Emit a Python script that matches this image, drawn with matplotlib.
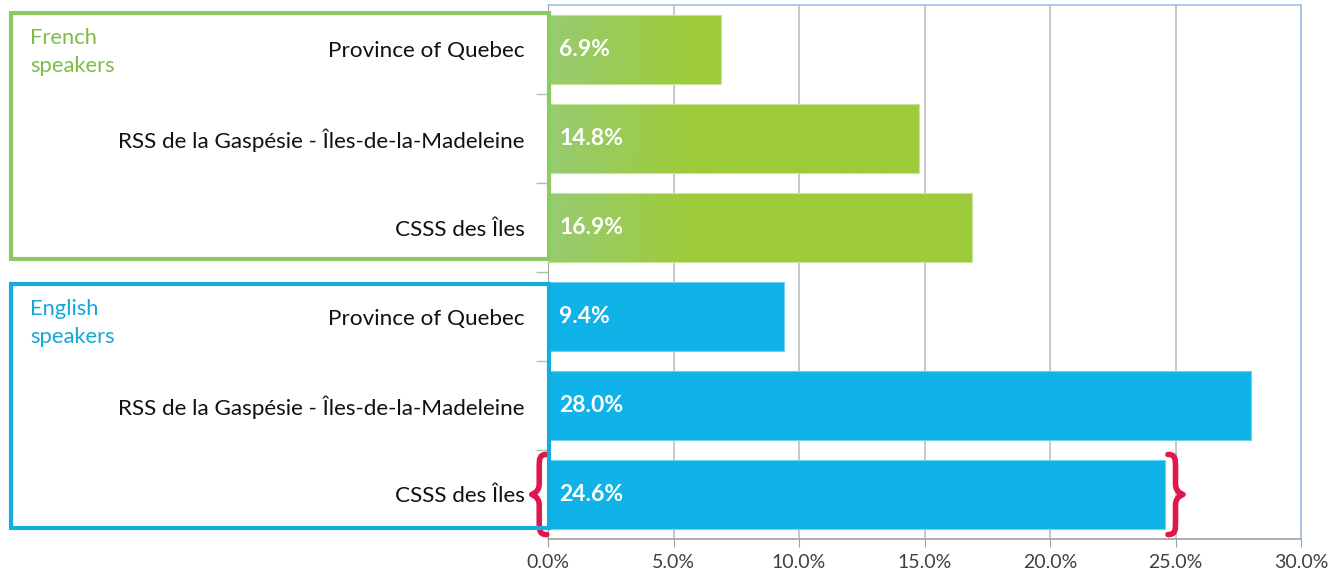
import numpy as np
import matplotlib
matplotlib.use("Agg")
import matplotlib.pyplot as plt
from matplotlib.patches import Rectangle, PathPatch
from matplotlib.path import Path
import matplotlib.transforms as mtransforms
from matplotlib.colors import to_rgb

plt.rcParams['font.family'] = ['Lato', 'DejaVu Sans']

# ---- data ----
categories = ["Province of Quebec", "RSS de la Gaspésie - Îles-de-la-Madeleine", "CSSS des Îles",
              "Province of Quebec", "RSS de la Gaspésie - Îles-de-la-Madeleine", "CSSS des Îles"]
groups = ["French speakers", "English speakers"]
french_values = [6.9, 14.8, 16.9]
english_values = [9.4, 28.0, 24.6]
x_ticks = [0, 5, 10, 15, 20, 25, 30]
x_tick_labels = ["0.0%", "5.0%", "10.0%", "15.0%", "20.0%", "25.0%", "30.0%"]

W, H = 1341, 577
fig = plt.figure(figsize=(W / 100, H / 100), dpi=100)
ax = fig.add_axes([548 / W, 1 - 539 / H, (1301 - 548) / W, (539 - 5) / H])

green_l = np.array(to_rgb("#97cb72"))
green_r = np.array(to_rgb("#9ecb3a"))
blue = "#0fb3e7"
bar_h = 0.78

ax.set_xlim(0, 30)
ax.set_ylim(5.5, -0.5)

# green bars with gradient
grad_end = 5.5
xs = np.linspace(0, 30, 600)
t = np.clip(xs / grad_end, 0, 1)[None, :, None]
img = green_l[None, None, :] * (1 - t) + green_r[None, None, :] * t
for i, v in enumerate(french_values):
    bars = ax.barh(i, v, height=bar_h, color="none", edgecolor="#c8e49a", linewidth=0.8, zorder=3)
    im = ax.imshow(img, extent=[0, 30, 5.5, -0.5], aspect="auto", zorder=2, interpolation="bilinear")
    im.set_clip_path(bars.patches[0])
    ax.text(0.45, i, f"{v:.1f}%", color="white", fontsize=16.5, fontweight="bold",
            va="center", ha="left", zorder=5)

for j, v in enumerate(english_values):
    i = j + 3
    ax.barh(i, v, height=bar_h, color=blue, edgecolor="#6fd0f0", linewidth=0.8, zorder=3)
    ax.text(0.45, i, f"{v:.1f}%", color="white", fontsize=16.5, fontweight="bold",
            va="center", ha="left", zorder=5)

ax.set_xlim(0, 30)
ax.set_ylim(5.5, -0.5)

# grid & axes
ax.set_xticks(x_ticks)
ax.set_xticklabels(x_tick_labels, fontsize=14, color="#404040")
ax.xaxis.grid(True, color="#bdbdbd", linewidth=1.2, zorder=0)
ax.set_axisbelow(True)
ax.tick_params(axis="x", length=6, color="#a0a0a0", pad=5)
ax.set_yticks(range(len(categories)))
ax.set_yticklabels(categories, fontsize=16.2, color="#111111")
ax.tick_params(axis="y", length=0, pad=17)
ax.set_yticks(np.arange(0.5, 5.5, 1.0), minor=True)
ax.tick_params(axis="y", which="minor", length=9, color="#a8c8a0", width=1)

for s in ["top", "right"]:
    ax.spines[s].set_color("#9dc3e6")
    ax.spines[s].set_linewidth(1.2)
ax.spines["left"].set_color("#a0a0a0")
ax.spines["bottom"].set_color("#a0a0a0")
ax.spines["bottom"].set_linewidth(1.2)

# group boxes (x in figure fraction, y in data)
trans = mtransforms.blended_transform_factory(fig.transFigure, ax.transData)
box_specs = [(-0.41, 2.35, "#8ccb63", "#7dbd45", groups[0]),
             (2.63, 5.38, "#14ade0", "#13a7da", groups[1])]
for y0, y1, ec, tc, label in box_specs:
    r = Rectangle((11 / W, y0), (549 - 11) / W, y1 - y0, transform=trans, fill=False,
                  edgecolor=ec, linewidth=3, clip_on=False, zorder=6)
    fig.add_artist(r)
    fig.text(30 / W, y0 + 0.17, label.replace(" ", "\n"), transform=trans, color=tc,
             fontsize=15.8, va="top", ha="left", linespacing=1.5)


def brace(ax, x, yc, half, width, direction, color="#e0174a"):
    # direction: -1 tip points left, +1 tip points right
    d = direction * width
    w2 = d / 2
    verts = [
        (x, yc - half),
        (x + w2, yc - half), (x + w2, yc - half + 0.05), (x + w2, yc - half + 0.15),
        (x + w2, yc - 0.12),
        (x + w2, yc - 0.02), (x + d, yc), (x + d, yc),
        (x + d, yc), (x + w2, yc + 0.02), (x + w2, yc + 0.12),
        (x + w2, yc + half - 0.15),
        (x + w2, yc + half - 0.05), (x + w2, yc + half), (x, yc + half),
    ]
    codes = [Path.MOVETO,
             Path.CURVE4, Path.CURVE4, Path.CURVE4,
             Path.LINETO,
             Path.CURVE4, Path.CURVE4, Path.CURVE4,
             Path.CURVE4, Path.CURVE4, Path.CURVE4,
             Path.LINETO,
             Path.CURVE4, Path.CURVE4, Path.CURVE4]
    p = PathPatch(Path(verts, codes), fill=False, edgecolor=color, linewidth=4,
                  clip_on=False, zorder=7, capstyle="round", joinstyle="round")
    ax.add_patch(p)


# highlight the CSSS des Îles English bar
hl_index = 5
hl_value = english_values[2]
brace(ax, -0.05, hl_index, 0.45, 0.6, -1)
brace(ax, hl_value + 0.1, hl_index, 0.45, 0.6, +1)

fig.savefig("out.png", dpi=100)
